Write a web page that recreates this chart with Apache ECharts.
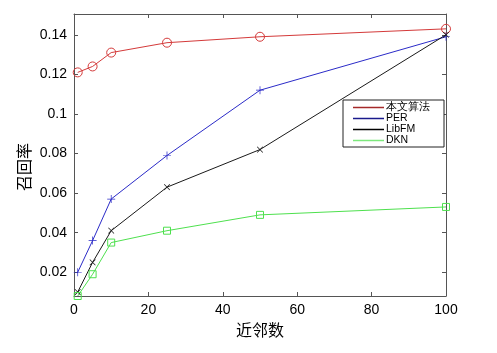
<!DOCTYPE html>
<html>
<head>
<meta charset="utf-8">
<script src="https://cdn.jsdelivr.net/npm/echarts@6/dist/echarts.min.js"></script>
<style>
  html, body { margin: 0; padding: 0; background: #fff; }
  #chart { width: 497px; height: 353px; }
</style>
</head>
<body>
<div id="chart"></div>
<script>
// neighbour counts (x) and recall per method
const neighbours = [1, 5, 10, 25, 50, 100]
const ours = [0.121, 0.124, 0.131, 0.136, 0.139, 0.143]
const per = [0.020, 0.036, 0.057, 0.079, 0.112, 0.139]
const libfm = [0.010, 0.025, 0.041, 0.063, 0.082, 0.140]
const dkn = [0.008, 0.019, 0.035, 0.041, 0.049, 0.053]
const seriesNames = ['本文算法', 'PER', 'LibFM', 'DKN']
const yTicks = [0.02, 0.04, 0.06, 0.08, 0.1, 0.12, 0.14]

const colors = ['#d43a3a', '#2b2bc8', '#1a1a1a', '#4ee04e']
const legendColors = ['#a52a2a', '#1a1a8c', '#000', '#7de87d']
const font = '"Liberation Sans", Arial, sans-serif'
const cjk = '"Noto Sans CJK SC", sans-serif'
const axisColor = '#555'

const plus = 'path://M4.55,0h0.9v10h-0.9z M0,4.55h10v0.9h-10z'

const pairs = (ys) => neighbours.map((x, i) => [x, ys[i]])

const makeSeries = (name, ys, color, symbol, size, hollow, rotate) => ({
  name: name,
  type: 'line',
  data: pairs(ys),
  symbol: symbol,
  symbolSize: size,
  symbolRotate: rotate || 0,
  showSymbol: true,
  lineStyle: { color: color, width: 1 },
  itemStyle: hollow
    ? { color: 'rgba(0,0,0,0)', borderColor: color, borderWidth: 1 }
    : { color: color, borderWidth: 0 },
  emphasis: { disabled: true },
  animation: false
})

const xBase = {
  type: 'value', min: 0, max: 100, interval: 20,
  axisLine: { show: true, onZero: false, lineStyle: { color: axisColor } },
  axisTick: { show: true, inside: true, length: 4, lineStyle: { color: axisColor } },
  splitLine: { show: false }
}
const yBase = {
  type: 'value', min: 0.008, max: 0.1505,
  axisLine: { show: true, onZero: false, lineStyle: { color: axisColor } },
  axisTick: { show: true, inside: true, length: 4, customValues: yTicks, lineStyle: { color: axisColor } },
  splitLine: { show: false }
}

const option = {
  backgroundColor: '#fff',
  animation: false,
  grid: { left: 74, right: 51, top: 14, bottom: 57 },
  legend: {
    data: seriesNames.map((n, i) => ({
      name: n, icon: 'rect',
      itemStyle: { color: legendColors[i], borderWidth: 0 }
    })),
    orient: 'vertical',
    left: 343,
    top: 100,
    itemWidth: 31,
    itemHeight: 1.5,
    itemGap: 0,
    padding: [2, 14, 1, 10],
    borderColor: '#222',
    borderWidth: 1,
    backgroundColor: '#fff',
    selectedMode: false,
    textStyle: { fontFamily: font, fontSize: 10.5, color: '#000', padding: [0, 0, 0, -3], lineHeight: 11 }
  },
  xAxis: [
    Object.assign({}, xBase, {
      position: 'bottom',
      name: '近邻数',
      nameLocation: 'middle',
      nameGap: 26,
      nameTextStyle: { fontFamily: cjk, fontSize: 16, color: '#000' },
      axisLabel: { fontFamily: font, fontSize: 14, color: '#000', margin: 7 }
    }),
    Object.assign({}, xBase, { position: 'top', axisLabel: { show: false } })
  ],
  yAxis: [
    Object.assign({}, yBase, {
      position: 'left',
      name: '召回率',
      nameLocation: 'middle',
      nameGap: 42,
      nameMoveOverlap: false,
      nameTextStyle: { fontFamily: cjk, fontSize: 16, color: '#000', padding: [0, 24, 0, 0] },
      axisLabel: {
        fontFamily: font, fontSize: 14, color: '#000', margin: 7,
        customValues: yTicks,
        formatter: v => String(+v.toFixed(3))
      }
    }),
    Object.assign({}, yBase, { position: 'right', axisLabel: { show: false } })
  ],
  series: [
    makeSeries(seriesNames[0], ours, colors[0], 'circle', 9, true),
    makeSeries(seriesNames[1], per, colors[1], plus, 8, false),
    makeSeries(seriesNames[2], libfm, colors[2], plus, 8, false, 45),
    makeSeries(seriesNames[3], dkn, colors[3], 'rect', 7, true)
  ]
}

const chart = echarts.init(document.getElementById('chart'))
chart.setOption(option)
</script>
</body>
</html>
